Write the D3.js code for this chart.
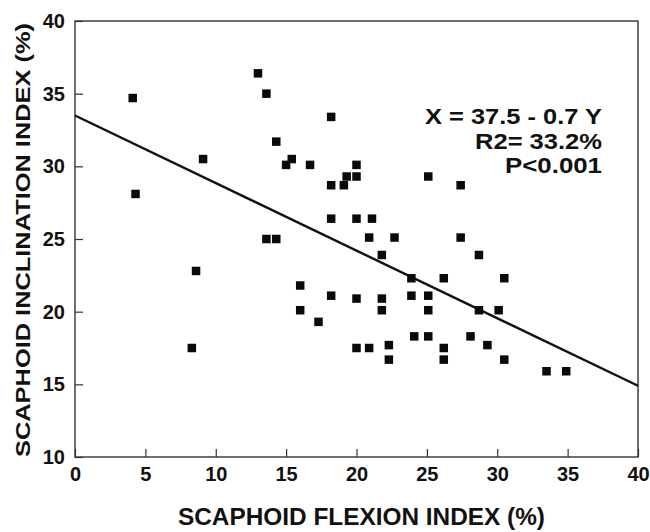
<!DOCTYPE html>
<html>
<head>
<meta charset="utf-8">
<script src="https://cdn.jsdelivr.net/npm/d3@7"></script>
<style>
  html, body { margin: 0; padding: 0; background: #fff; }
  svg { display: block; }
  text { font-family: "Liberation Sans", Arial, Helvetica, sans-serif; font-weight: bold; fill: #111; }
</style>
</head>
<body>
<svg id="chart" width="650" height="532"></svg>
<script>
// Scaphoid flexion index (x) vs scaphoid inclination index (y), both in %
const flexion = [
  4.1, 4.3, 9.1, 13.0, 13.6, 14.3, 15.0, 15.4, 16.7, 18.2,
  18.2, 19.1, 19.3, 20.0, 20.0, 18.2, 20.0, 21.1, 13.6, 14.3,
  20.9, 22.7, 25.1, 27.4, 27.4, 8.6, 8.3, 16.0, 16.0, 17.3,
  18.2, 20.0, 20.0, 21.8, 28.7, 23.9, 26.2, 30.5, 21.8, 21.8,
  23.9, 25.1, 25.1, 28.7, 30.1, 20.9, 22.3, 22.3, 24.1, 25.1,
  26.2, 26.2, 28.1, 29.3, 30.5, 33.5, 34.9
];
const inclination = [
  34.7, 28.1, 30.5, 36.4, 35.0, 31.7, 30.1, 30.5, 30.1, 33.4,
  28.7, 28.7, 29.3, 30.1, 29.3, 26.4, 26.4, 26.4, 25.0, 25.0,
  25.1, 25.1, 29.3, 28.7, 25.1, 22.8, 17.5, 21.8, 20.1, 19.3,
  21.1, 20.9, 17.5, 23.9, 23.9, 22.3, 22.3, 22.3, 20.9, 20.1,
  21.1, 21.1, 20.1, 20.1, 20.1, 17.5, 17.7, 16.7, 18.3, 18.3,
  17.5, 16.7, 18.3, 17.7, 16.7, 15.9, 15.9
];

// fitted line end points [x, y]
const fitLine = [[0, 33.5], [40, 14.9]];

const xTicks = [0, 5, 10, 15, 20, 25, 30, 35, 40];
const yTicks = [10, 15, 20, 25, 30, 35, 40];

const statLines = ['X = 37.5 - 0.7 Y', 'R2= 33.2%', 'P<0.001'];
const xTitle = 'SCAPHOID FLEXION INDEX (%)';
const yTitle = 'SCAPHOID INCLINATION INDEX (%)';

// ── Layout ────────────────────────────────────────────────────────────────────
const svg = d3.select('#chart');
const M = { left: 75, top: 21, right: 638, bottom: 457 };

const x = d3.scaleLinear().domain([0, 40]).range([M.left, M.right]);
const y = d3.scaleLinear().domain([10, 40]).range([M.bottom, M.top]);

// ── Axes (ticks point inward) ─────────────────────────────────────────────────
const xAxis = svg.append('g')
  .attr('transform', `translate(0,${M.bottom})`)
  .call(d3.axisBottom(x).tickValues(xTicks).tickFormat(d3.format('d'))
    .tickSizeInner(-8).tickSizeOuter(0).tickPadding(10));

const yAxis = svg.append('g')
  .attr('transform', `translate(${M.left},0)`)
  .call(d3.axisLeft(y).tickValues(yTicks).tickFormat(d3.format('d'))
    .tickSizeInner(-8).tickSizeOuter(0).tickPadding(10));

[xAxis, yAxis].forEach(ax => {
  ax.select('.domain').remove();
  ax.selectAll('.tick line').attr('stroke', '#333').attr('stroke-width', 1.2);
  ax.selectAll('.tick text')
    .attr('fill', '#111')
    .style('font-size', '20px')
    .style('font-family', '"Liberation Sans", Arial, sans-serif')
    .style('font-weight', 'bold');
});

// frame
svg.append('rect')
  .attr('x', M.left).attr('y', M.top)
  .attr('width', M.right - M.left).attr('height', M.bottom - M.top)
  .attr('fill', 'none')
  .attr('stroke', '#333')
  .attr('stroke-width', 1.4);

// ── Regression line ───────────────────────────────────────────────────────────
svg.append('path')
  .datum(fitLine)
  .attr('d', d3.line().x(d => x(d[0])).y(d => y(d[1])))
  .attr('fill', 'none')
  .attr('stroke', '#111')
  .attr('stroke-width', 2.4);

// ── Points ────────────────────────────────────────────────────────────────────
const pts = flexion.map((v, i) => ({ fx: v, inc: inclination[i] }));
const S = 8.5;
svg.append('g').selectAll('rect.pt')
  .data(pts)
  .enter().append('rect')
  .attr('class', 'pt')
  .attr('x', d => x(d.fx) - S / 2)
  .attr('y', d => y(d.inc) - S / 2)
  .attr('width', S)
  .attr('height', S)
  .attr('fill', '#0a0a0a');

// ── Stats text ────────────────────────────────────────────────────────────────
const statWidths = [177, 127, 97];
svg.append('g').selectAll('text')
  .data(statLines)
  .enter().append('text')
  .attr('x', 602)
  .attr('y', (d, i) => 124 + i * 24.7)
  .attr('text-anchor', 'end')
  .style('font-size', '22px')
  .attr('textLength', (d, i) => statWidths[i])
  .attr('lengthAdjust', 'spacingAndGlyphs')
  .text(d => d);

// ── Axis titles ───────────────────────────────────────────────────────────────
svg.append('text')
  .attr('x', 361.5)
  .attr('y', 525)
  .attr('text-anchor', 'middle')
  .style('font-size', '23px')
  .attr('textLength', 367)
  .attr('lengthAdjust', 'spacingAndGlyphs')
  .text(xTitle);

svg.append('text')
  .attr('transform', 'translate(30,240) rotate(-90)')
  .attr('text-anchor', 'middle')
  .style('font-size', '21px')
  .attr('textLength', 434)
  .attr('lengthAdjust', 'spacingAndGlyphs')
  .text(yTitle);
</script>
</body>
</html>
